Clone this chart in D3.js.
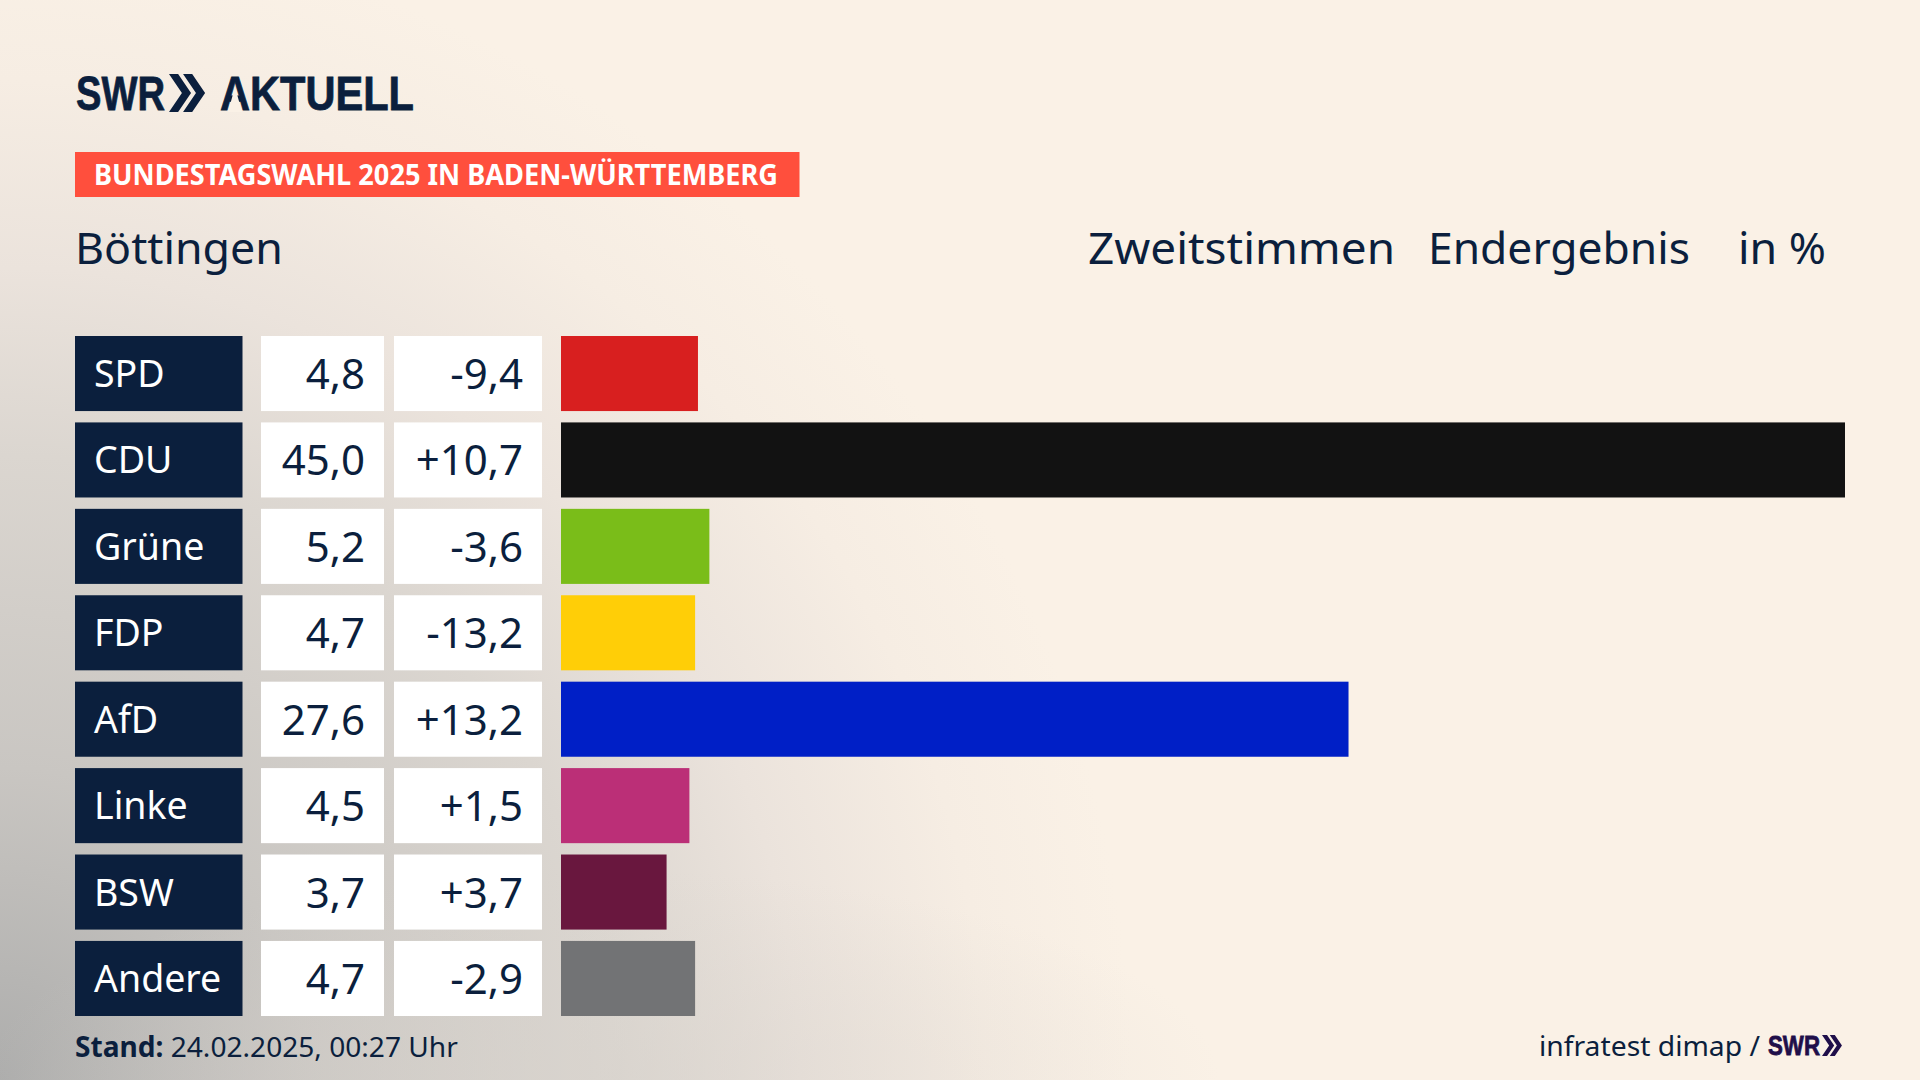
<!DOCTYPE html>
<html lang="de">
<head>
<meta charset="utf-8">
<script src="https://d3js.org/d3.v7.min.js"></script>
<style>
  html, body { margin: 0; padding: 0; background: #faf1e6; }
  svg { display: block; }
  text { font-family: "Noto Sans", sans-serif; fill: #0b1f3d; }
  .logo { font-family: "Liberation Sans", sans-serif; font-weight: 700; stroke-width: 0.8px; }
</style>
</head>
<body>
<div id="chart"></div>
<script>
const parties = ["SPD", "CDU", "Grüne", "FDP", "AfD", "Linke", "BSW", "Andere"];
const shares = [4.8, 45.0, 5.2, 4.7, 27.6, 4.5, 3.7, 4.7];
const changes = [-9.4, 10.7, -3.6, -13.2, 13.2, 1.5, 3.7, -2.9];
const barColors = ["#d81f1f", "#121212", "#7abd19", "#ffce07", "#001fc6", "#bb2f77", "#69173e", "#727375"];

const width = 1920, height = 1080;
const navy = "#0b1f3d";
const cream = "#faf1e6";
const german = d3.formatLocale({ decimal: ",", thousands: ".", grouping: [3], currency: ["", " €"], minus: "-" });
const fmtShare = german.format(".1f");
const fmtChange = german.format("+.1f");

const svg = d3.select("#chart").append("svg").attr("width", width).attr("height", height);

// background: cream with a blurred grey shadow from the lower left
const defs = svg.append("defs");
const shade = defs.append("radialGradient").attr("id", "shade")
  .attr("gradientUnits", "userSpaceOnUse")
  .attr("cx", 0).attr("cy", 0).attr("r", 1)
  .attr("gradientTransform", "translate(0 1080) scale(1230 1250)");
[[0, "#adadac"], [0.25, "#c9c6c2"], [0.5, "#dbd6d0"], [0.65, "#ebe3dc"], [0.8, "#f6ede3"], [0.92, cream], [1, cream]]
  .forEach(s => shade.append("stop").attr("offset", s[0]).attr("stop-color", s[1]));
const band = defs.append("radialGradient").attr("id", "band")
  .attr("gradientUnits", "userSpaceOnUse")
  .attr("cx", 0).attr("cy", 0).attr("r", 1)
  .attr("gradientTransform", "translate(600 1080) scale(620 210)");
band.append("stop").attr("offset", 0).attr("stop-color", "#d8d3cd").attr("stop-opacity", 0.55);
band.append("stop").attr("offset", 1).attr("stop-color", "#d8d3cd").attr("stop-opacity", 0);
svg.append("rect").attr("width", width).attr("height", height).attr("fill", "url(#shade)");
svg.append("rect").attr("width", width).attr("height", height).attr("fill", "url(#band)");

const y = d3.scaleBand().domain(parties).range([336, 1016]).paddingInner(0.1314);
const x = d3.scaleLinear().domain([0, 45]).range([561, 1845]);

// two-chevron mark of the logo
function chevrons(g, x0, y0, h, color) {
  const w = h * 0.58, step = h * 0.37, t = h * 0.24, mid = y0 + h / 2;
  [0, step].forEach(dx => {
    const p = d3.path();
    p.moveTo(x0 + dx, y0);
    p.lineTo(x0 + dx + t, y0);
    p.lineTo(x0 + dx + w, mid);
    p.lineTo(x0 + dx + t, y0 + h);
    p.lineTo(x0 + dx, y0 + h);
    p.lineTo(x0 + dx + w - t, mid);
    p.closePath();
    g.append("path").attr("d", p.toString()).attr("fill", color);
  });
}

// logo
svg.append("text").attr("class", "logo").attr("x", 76).attr("y", 110)
  .style("font-size", "49px").style("stroke", navy)
  .attr("textLength", 89).attr("lengthAdjust", "spacingAndGlyphs").text("SWR");
chevrons(svg, 169, 74, 38, navy);
svg.append("text").attr("class", "logo").attr("x", 220).attr("y", 110)
  .style("font-size", "49px").style("stroke", navy)
  .attr("textLength", 194).attr("lengthAdjust", "spacingAndGlyphs").text("AKTUELL");
// the logo's A has no crossbar
svg.append("path").attr("d", "M235,87L242,112L228,112Z").attr("fill", cream);

// banner
svg.append("rect").attr("x", 75).attr("y", 152).attr("width", 724.5).attr("height", 45).attr("fill", "#ff4f3d");
svg.append("text").attr("x", 94).attr("y", 185)
  .style("font-weight", 700).style("font-size", "28px").style("fill", "#fff")
  .attr("textLength", 684).attr("lengthAdjust", "spacingAndGlyphs")
  .text("BUNDESTAGSWAHL 2025 IN BADEN-WÜRTTEMBERG");

// header row
const headerSize = "44px";
svg.append("text").attr("x", 75).attr("y", 264).style("font-size", headerSize)
  .attr("textLength", 208).attr("lengthAdjust", "spacingAndGlyphs").text("Böttingen");
svg.append("text").attr("x", 1088).attr("y", 264).style("font-size", headerSize)
  .attr("textLength", 307).attr("lengthAdjust", "spacingAndGlyphs").text("Zweitstimmen");
svg.append("text").attr("x", 1428).attr("y", 264).style("font-size", headerSize)
  .attr("textLength", 262).attr("lengthAdjust", "spacingAndGlyphs").text("Endergebnis");
svg.append("text").attr("x", 1738).attr("y", 264).style("font-size", headerSize)
  .attr("textLength", 88).attr("lengthAdjust", "spacingAndGlyphs").text("in %");

// rows
const rows = svg.selectAll(".row").data(parties).join("g").attr("class", "row")
  .attr("transform", d => `translate(0,${y(d)})`);
const h = y.bandwidth();

rows.append("rect").attr("x", 75).attr("width", 167.5).attr("height", h).attr("fill", navy);
rows.append("text").attr("x", 94).attr("y", h / 2 + 13.5)
  .style("font-size", "37.5px").style("fill", "#fff").text(d => d);

rows.append("rect").attr("x", 261).attr("width", 123).attr("height", h).attr("fill", "#fff");
rows.append("text").attr("x", 365).attr("y", h / 2 + 15.5).attr("text-anchor", "end")
  .style("font-size", "42px").text((d, i) => fmtShare(shares[i]));

rows.append("rect").attr("x", 394).attr("width", 148).attr("height", h).attr("fill", "#fff");
rows.append("text").attr("x", 523).attr("y", h / 2 + 15.5).attr("text-anchor", "end")
  .style("font-size", "42px").text((d, i) => fmtChange(changes[i]));

rows.append("rect").attr("x", x(0)).attr("height", h)
  .attr("width", (d, i) => x(shares[i]) - x(0))
  .attr("fill", (d, i) => barColors[i]);

// footer
const stand = svg.append("text").attr("x", 75).attr("y", 1057).style("font-size", "28.1px");
stand.append("tspan").style("font-weight", 700).text("Stand:");
stand.append("tspan").text(" 24.02.2025, 00:27 Uhr");
svg.append("text").attr("x", 1539).attr("y", 1056).style("font-size", "28px")
  .attr("textLength", 221).attr("lengthAdjust", "spacingAndGlyphs").text("infratest dimap /");
svg.append("text").attr("class", "logo").attr("x", 1768).attr("y", 1055)
  .style("font-size", "28px").style("fill", "#1f0f4a").style("stroke", "#1f0f4a")
  .attr("textLength", 52).attr("lengthAdjust", "spacingAndGlyphs").text("SWR");
chevrons(svg, 1822, 1035, 21, "#1f0f4a");
</script>
</body>
</html>
